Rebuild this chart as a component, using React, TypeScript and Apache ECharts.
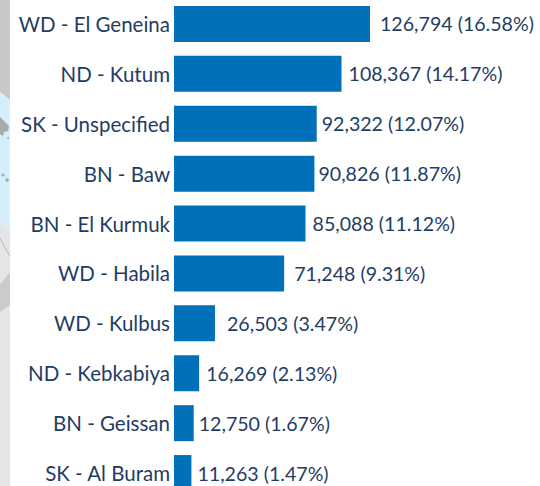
import React, { useEffect, useRef } from "react";
import * as echarts from "echarts";

const categories = ["WD - El Geneina","ND - Kutum","SK - Unspecified","BN - Baw","BN - El Kurmuk","WD - Habila","WD - Kulbus","ND - Kebkabiya","BN - Geissan","SK - Al Buram"];
const values = [126794,108367,92322,90826,85088,71248,26503,16269,12750,11263];
const percents = ["16.58","14.17","12.07","11.87","11.12","9.31","3.47","2.13","1.67","1.47"];
const labelGaps = [10,7,5,4,7,10,12,7,5,6];
const FONT = "Lato";
const INK = "#1f3d63";

const poly = (points: number[][], fill: string, z = 0) => ({
  type: "polygon", z, silent: true, shape: { points }, style: { fill },
});
const dot = (cx: number, cy: number, r: number) => ({
  type: "circle", z: 3, silent: true, shape: { cx, cy, r }, style: { fill: "#a9a9a9" },
});

export default function App() {
  const ref = useRef<HTMLDivElement>(null);
  useEffect(() => {
    document.body.style.margin = "0";
    const chart = echarts.init(ref.current!, null, { renderer: "svg" });
    chart.setOption({
      animation: false,
      backgroundColor: "#ffffff",
      graphic: [
        poly([[0,0],[10,0],[10,100],[5,96],[0,92]], "#c8c8c8"),
        poly([[0,92],[5,96],[10,100],[10,229],[5,226],[0,217]], "#d5eefc"),
        poly([[0,217],[5,226],[10,229],[10,486],[0,486]], "#e4e5e7"),
        poly([[0,285],[10,272],[10,305],[0,312]], "#cbcbcb", 1),
        poly([[0,117],[4,121],[9,126],[8,131],[4,132],[3,136],[0,134]], "#a9a9a9", 3),
        dot(3, 175, 1.5), dot(7, 180, 1.8), dot(8, 138, 1),
        { type: "polyline", z: 2, silent: true, shape: { points: [[0,238],[4,246],[10,256]] }, style: { fill: "none", stroke: "#b9b9b9", lineWidth: 1 } },
      ],
      grid: { left: 174, top: -1, width: 196, height: 499, outerBoundsMode: "none", containLabel: false },
      xAxis: { type: "value", min: 0, max: 126794, show: false },
      yAxis: {
        type: "category", inverse: true, data: categories,
        axisLine: { show: false }, axisTick: { show: false },
        axisLabel: { color: INK, fontFamily: FONT, fontSize: 20.5, margin: 4, padding: [5, 0, 0, 0] },
      },
      series: [{
        type: "bar", barWidth: 36, itemStyle: { color: "#0070bb" }, silent: true,
        data: values.map((v, i) => ({
          value: v,
          label: {
            show: true, position: "right", distance: labelGaps[i], color: INK, fontFamily: FONT, fontSize: 19.6,
            formatter: `${v.toLocaleString("en-US")} (${percents[i]}%)`,
          },
        })),
      }],
    });
    return () => chart.dispose();
  }, []);
  return <div ref={ref} style={{ width: 540, height: 486, overflow: "hidden" }} />;
}
